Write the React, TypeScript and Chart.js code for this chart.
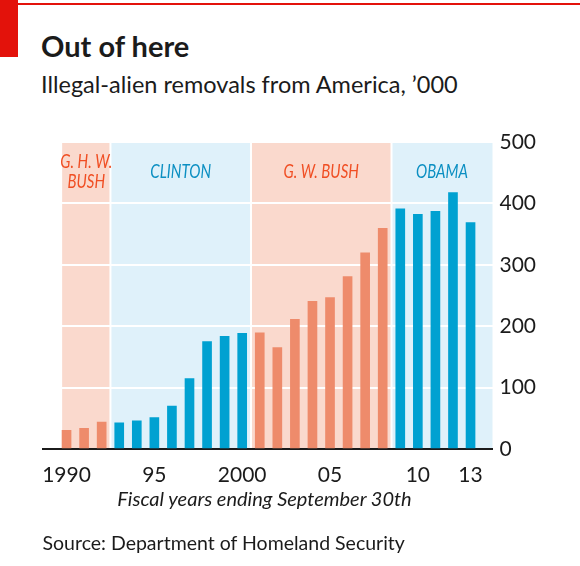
import React, { useEffect, useRef } from 'react';
import { Chart, registerables } from 'chart.js';

Chart.register(...registerables);

// ---- data ----
const years = [1990, 1991, 1992, 1993, 1994, 1995, 1996, 1997, 1998, 1999, 2000, 2001, 2002, 2003, 2004, 2005, 2006, 2007, 2008, 2009, 2010, 2011, 2012, 2013];
const removals = [30.5, 33.5, 43.7, 42.6, 45.7, 51, 69.7, 114.5, 174.8, 183.5, 188.5, 189, 165.2, 211, 240.5, 246.5, 281, 319.4, 359.5, 391.3, 382, 387, 417.5, 368.6];

const presidents = ['G. H. W.\nBUSH', 'CLINTON', 'G. W. BUSH', 'OBAMA'];
const termStart = [1989.75, 1992.5, 2000.5, 2008.5];
const termEnd = [1992.5, 2000.5, 2008.5, 2014.25];
const termParty = ['R', 'D', 'R', 'D'];

const tickYears = [1990, 1995, 2000, 2005, 2010, 2013];
const tickLabels = ['1990', '95', '2000', '05', '10', '13'];

const yTicks = [0, 100, 200, 300, 400, 500];

const X_MIN = 1988.66;
const X_MAX = 2014.25;

// ---- styles ----
const barColor: Record<string, string> = { R: '#EE8B6B', D: '#00A1D1' };
const bgColor: Record<string, string> = { R: '#FAD9CD', D: '#DFF1FA' };
const labelColor: Record<string, string> = { R: '#F04E23', D: '#0B8FC2' };
const INK = '#1b1b1b';

function partyForYear(y: number): string {
  for (let i = 0; i < termStart.length; i++) {
    if (y >= termStart[i] && y < termEnd[i]) return termParty[i];
  }
  return 'D';
}

const termPlugin = {
  id: 'terms',
  beforeDraw(chart: any) {
    const { ctx, chartArea } = chart;
    const xs = chart.scales.x;
    ctx.save();
    for (let i = 0; i < termStart.length; i++) {
      const x0 = xs.getPixelForValue(termStart[i]);
      const x1 = Math.min(xs.getPixelForValue(termEnd[i]), chartArea.right);
      ctx.fillStyle = bgColor[termParty[i]];
      ctx.fillRect(x0, chartArea.top, x1 - x0, chartArea.bottom - chartArea.top);
    }
    ctx.fillStyle = '#ffffff';
    for (let i = 1; i < termStart.length; i++) {
      const x = xs.getPixelForValue(termStart[i]);
      ctx.fillRect(x - 1, chartArea.top, 2, chartArea.bottom - chartArea.top);
    }
    ctx.restore();
  },
  afterDraw(chart: any) {
    const { ctx, chartArea } = chart;
    const xs = chart.scales.x;
    ctx.save();
    ctx.font = 'italic 19px Lato, sans-serif';
    ctx.textAlign = 'center';
    ctx.textBaseline = 'alphabetic';
    for (let i = 0; i < presidents.length; i++) {
      const x0 = xs.getPixelForValue(termStart[i]);
      const x1 = Math.min(xs.getPixelForValue(termEnd[i]), chartArea.right);
      const cx = (x0 + x1) / 2;
      const lines = presidents[i].split('\n');
      ctx.fillStyle = labelColor[termParty[i]];
      lines.forEach((ln, k) => {
        const y = chartArea.top + 35.5 + (k - (lines.length - 1) / 2) * 20;
        ctx.save();
        ctx.translate(cx, y);
        ctx.scale(0.79, 1);
        ctx.fillText(ln, 0, 0);
        ctx.restore();
      });
    }
    ctx.restore();
  },
};

function App() {
  const canvasRef = useRef<HTMLCanvasElement | null>(null);

  useEffect(() => {
    const canvas = canvasRef.current;
    if (!canvas) return;
    const chart = new Chart(canvas, {
      type: 'bar',
      data: {
        datasets: [
          {
            data: years.map((y, i) => ({ x: y, y: removals[i] })),
            backgroundColor: years.map((y) => barColor[partyForYear(y)]),
            borderWidth: 0,
            barThickness: 9,
          },
        ],
      },
      options: {
        animation: false,
        responsive: false,
        events: [],
        layout: { padding: { left: 43, top: 142, right: 0, bottom: 77 } },
        plugins: { legend: { display: false }, tooltip: { enabled: false }, title: { display: false } },
        scales: {
          x: {
            type: 'linear',
            min: X_MIN,
            max: X_MAX,
            offset: false,
            position: 'bottom',
            z: 1,
            grid: { display: false, drawTicks: false },
            border: { display: true, color: INK, width: 2 },
            ticks: {
              padding: 14,
              autoSkip: false,
              maxRotation: 0,
              color: INK,
              font: { family: 'Lato', size: 21 },
              callback: (v: any) => {
                const idx = tickYears.indexOf(Number(v));
                return idx >= 0 ? tickLabels[idx] : '';
              },
            },
            afterBuildTicks: (s: any) => {
              s.ticks = tickYears.map((v) => ({ value: v }));
            },
            afterFit: (s: any) => {
              s.height = 40;
            },
          },
          y: {
            position: 'right',
            min: 0,
            max: 500,
            grid: {
              color: (c: any) => (c.tick && c.tick.value === 0 ? 'rgba(0,0,0,0)' : '#ffffff'),
              lineWidth: 2,
              drawTicks: false,
            },
            border: { display: false },
            ticks: {
              padding: 7,
              color: INK,
              font: { family: 'Lato', size: 21 },
            },
            afterBuildTicks: (s: any) => {
              s.ticks = yTicks.map((v) => ({ value: v }));
            },
            afterFit: (s: any) => {
              s.width = 87.5;
            },
          },
        },
      },
      plugins: [termPlugin],
    } as any);
    return () => chart.destroy();
  }, []);

  const abs = (o: React.CSSProperties): React.CSSProperties => ({ position: 'absolute', whiteSpace: 'nowrap', margin: 0, ...o });

  return (
    <div style={{ position: 'absolute', left: 0, top: 0, width: 580, height: 566, background: '#ffffff', overflow: 'hidden' }}>
      <div style={abs({ left: 0, top: 3, width: 580, height: 1.5, background: '#E3120B' })} />
      <div style={abs({ left: 0, top: 0, width: 18, height: 57, background: '#E3120B' })} />
      <div style={abs({ left: 41, top: 30.5, fontFamily: 'Lato', fontWeight: 700, fontSize: 29, lineHeight: '29px', color: INK })}>Out of here</div>
      <div style={abs({ left: 41, top: 72.5, fontFamily: 'Lato', fontSize: 23.5, lineHeight: '23.5px', color: INK })}>Illegal-alien removals from America, ’000</div>
      <canvas ref={canvasRef} width={580} height={566} style={{ position: 'absolute', left: 0, top: 0, width: 580, height: 566 }} />
      <div style={abs({ left: 264.5, top: 487.5, transform: 'translateX(-50%)', fontFamily: 'Lato', fontStyle: 'italic', fontSize: 20, lineHeight: '20px', color: INK })}>Fiscal years ending September 30th</div>
      <div style={abs({ left: 42.5, top: 532.5, fontFamily: 'Lato', fontSize: 19.5, lineHeight: '19.5px', color: INK })}>Source: Department of Homeland Security</div>
    </div>
  );
}

export default App;
